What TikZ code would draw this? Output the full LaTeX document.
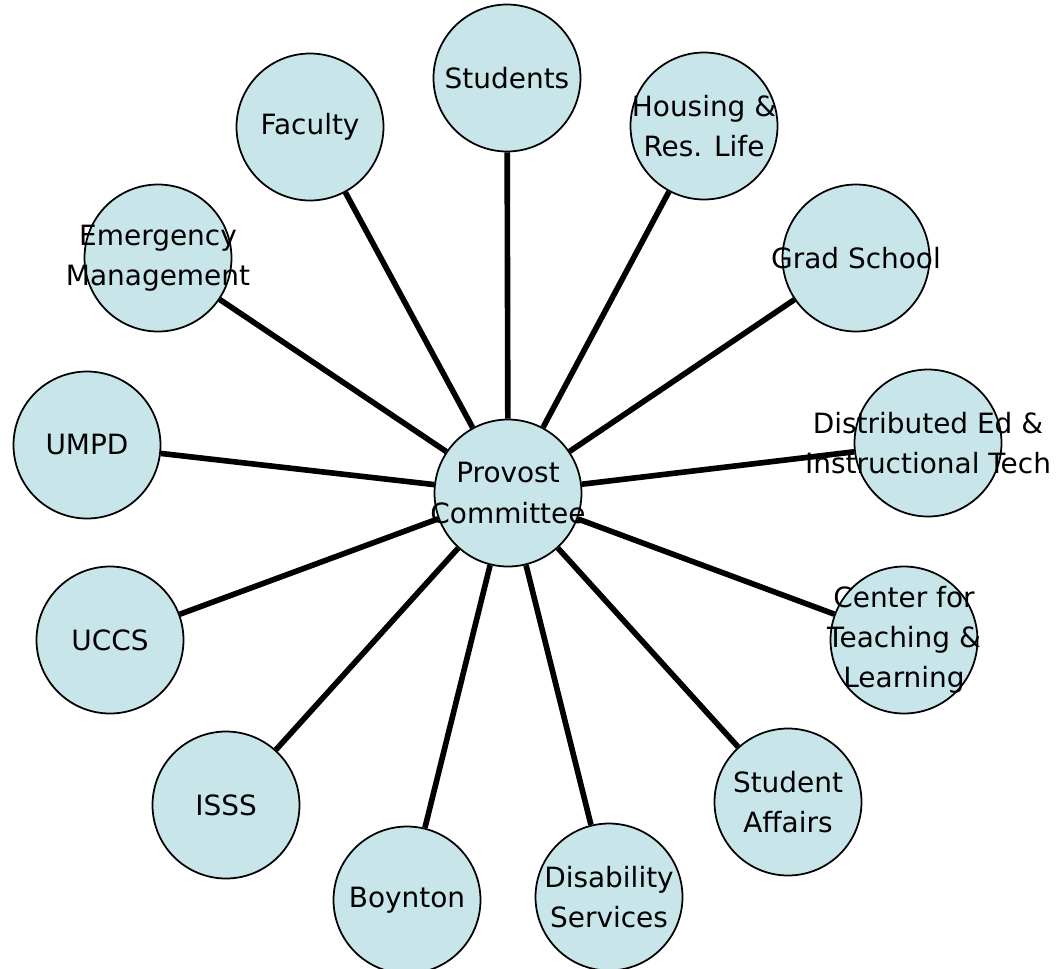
\documentclass[tikz,border=0pt]{standalone}
\usepackage{fontspec}
\setmainfont{DejaVu Sans}
\usetikzlibrary{backgrounds}
\definecolor{officeBlue}{RGB}{200,230,234}
\newcommand{\office}[3]{%%
  \node[circleStyle] (#1) at (#2) {};
  \node[labelStyle] (#1-text) at (#1) {#3};
}
\newcommand{\spokes}{%%
  \begin{pgfonlayer}{background}
  \foreach \n in {students,housing,grad,disted,ctl,affairs,disability,%%
    boynton,isss,uccs,umpd,emergency,faculty}{
    \draw[spokeStyle] (provost) -- (\n);
  };
  \end{pgfonlayer}
}

\begin{document}
\begin{tikzpicture}[%%
  x=0.02cm,y=-0.02cm,%%
  circleStyle/.style={circle,draw=black,line width=1pt,fill=officeBlue,%%
    minimum size=2.94cm,inner sep=0pt},%%
  labelStyle/.style={align=center,inner sep=0pt,%%
    font=\fontsize{15.9}{22.8}\selectfont},%%
  spokeStyle/.style={-,black,line width=3.2pt}
]
%%
\useasboundingbox (0,0) rectangle (1061,968);
%%
%% The hub.
\office{provost}{508,493}{Provost\\Committee}
%%
%% The offices round it.
\office{students}{507,78}{Students}
\office{housing}{704,126}{Housing \&\\Res. Life}
\office{grad}{856,258}{Grad School}
\office{disted}{928,443}{Distributed Ed \&\\Instructional Tech}
\office{ctl}{904,640}{Center for\\Teaching \&\\Learning}
\office{affairs}{788,802}{Student\\Affairs}
\office{disability}{609,897}{Disability\\Services}
\office{boynton}{407,900}{Boynton}
\office{isss}{226,805}{ISSS}
\office{uccs}{110,640}{UCCS}
\office{umpd}{87,445}{UMPD}
\office{emergency}{158,258}{Emergency\\Management}
\office{faculty}{310,127}{Faculty}
%%
%% The lines to the hub.
\spokes
\end{tikzpicture}
\end{document}
